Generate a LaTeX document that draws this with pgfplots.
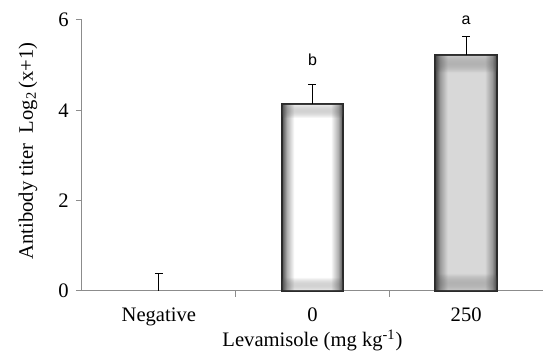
\documentclass[border=0pt]{standalone}
\usepackage{pgfplots}
\pgfplotsset{compat=1.18}
\usetikzlibrary{fadings}
\usepackage{fontspec}
\setmainfont{Liberation Serif}
\newfontfamily\arialfont{Liberation Sans}
\definecolor{axisgray}{HTML}{8C8C8C}
\definecolor{edgeA}{HTML}{4E4E4E}
\definecolor{midA}{HTML}{B0B0B0}
\definecolor{edgeB}{HTML}{444444}
\definecolor{midB}{HTML}{9A9A9A}
\definecolor{centB}{HTML}{D8D8D8}
\definecolor{barline}{HTML}{2A2A2A}
\pgfdeclarehorizontalshading{hzero}{100bp}{color(0bp)=(edgeA); color(25bp)=(edgeA); color(29bp)=(midA); color(35bp)=(white); color(65bp)=(white); color(71bp)=(midA); color(75bp)=(edgeA); color(100bp)=(edgeA)}
\pgfdeclarehorizontalshading{hhigh}{100bp}{color(0bp)=(edgeB); color(25bp)=(edgeB); color(29bp)=(midB); color(35bp)=(centB); color(65bp)=(centB); color(71bp)=(midB); color(75bp)=(edgeB); color(100bp)=(edgeB)}
\pgfdeclareverticalshading{tbshade}{100bp}{color(0bp)=(white); color(25bp)=(white); color(29bp)=(black); color(71bp)=(black); color(75bp)=(white); color(100bp)=(white)}
\pgfdeclarefading{tbfade}{\pgfuseshading{tbshade}}
\begin{document}
\fontsize{10.3pt}{12pt}\selectfont
\begin{tikzpicture}
\useasboundingbox (-41pt,-32.5pt) rectangle (230.5pt,145.5pt);
\begin{axis}[
  at={(0,0)}, anchor=south west,
  scale only axis, width=230.5pt, height=135.5pt,
  xmin=-0.5, xmax=2.5, ymin=0, ymax=6,
  axis x line*=bottom, axis y line*=left,
  axis line style={axisgray, line width=0.5pt},
  xtick={0.5,1.5}, xticklabels={},
  extra x ticks={0,1,2}, extra x tick labels={Negative,0,250},
  extra x tick style={major tick length=0pt, tick label style={yshift=-5pt}},
  ytick={0,2,4,6},
  tick style={axisgray, line width=0.5pt},
  tick align=outside, major tick length=3pt,
  /pgf/number format/assume math mode=true,
  ticklabel style={font=\fontsize{10.3pt}{12pt}\selectfont},
  ylabel={Antibody titer\ \ Log\textsubscript{2}\,(x+1)},
  ylabel style={at={(axis description cs:-0.117,0.517)}, anchor=center, font=\fontsize{10.3pt}{12pt}\selectfont},
  xlabel={Levamisole (mg kg\textsuperscript{-1})},
  xlabel style={at={(axis description cs:0.5,0)}, anchor=base, yshift=-28pt, font=\fontsize{10.3pt}{12pt}\selectfont},
  clip=false,
  error bars/error mark=|,
]
\addplot[ybar, bar shift=0pt, bar width=30.5pt, draw=barline, line width=1pt, shade, shading=hzero,
  postaction={fill=edgeA, path fading=tbfade, fit fading=true},
  error bars/.cd, y dir=plus, y explicit,
  error bar style={draw=black, line width=0.6pt},
  error mark options={draw=black, line width=0.6pt, mark size=2pt}]
  coordinates {(1,4.14) +- (0,0.43)};
\addplot[ybar, bar shift=0pt, bar width=31pt, draw=barline, line width=1pt, shade, shading=hhigh,
  postaction={fill=edgeB, path fading=tbfade, fit fading=true},
  error bars/.cd, y dir=plus, y explicit,
  error bar style={draw=black, line width=0.6pt},
  error mark options={draw=black, line width=0.6pt, mark size=2pt}]
  coordinates {(2,5.23) +- (0,0.40)};
\addplot[draw=none, mark=none,
  error bars/.cd, y dir=plus, y explicit,
  error bar style={draw=black, line width=0.6pt},
  error mark options={draw=black, line width=0.6pt, mark size=2pt}]
  coordinates {(0,0) +- (0,0.39)};
\node[font=\arialfont\fontsize{8pt}{9pt}\selectfont] at (axis cs:1,5.11) {b};
\node[font=\arialfont\fontsize{8pt}{9pt}\selectfont] at (axis cs:2,6.0) {a};
\end{axis}
\end{tikzpicture}
\end{document}
